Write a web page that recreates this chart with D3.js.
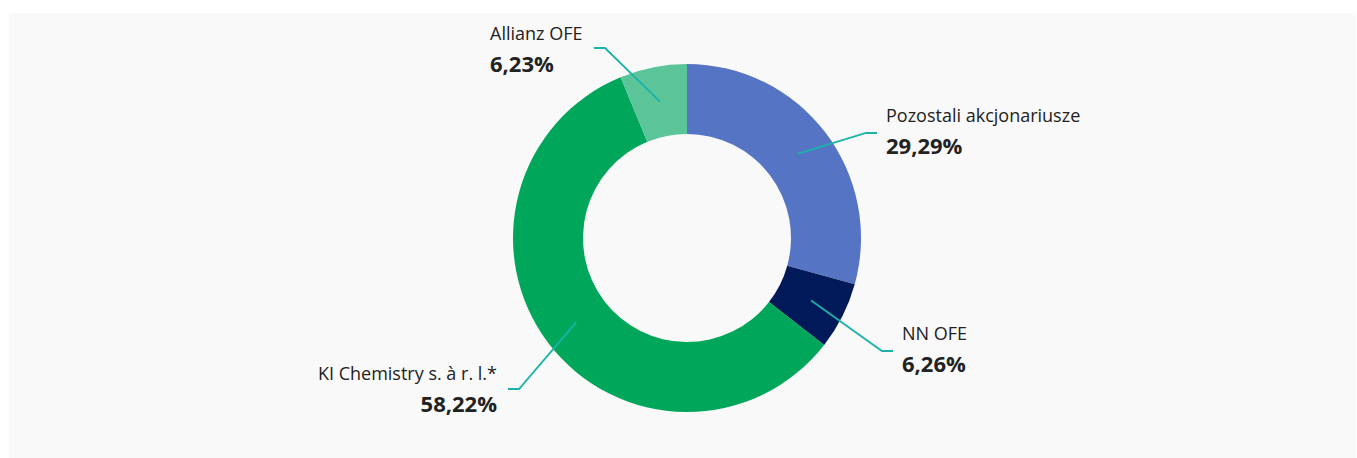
<!DOCTYPE html>
<html lang="pl">
<head>
<meta charset="UTF-8">
<title>Struktura akcjonariatu</title>
<script src="https://cdn.jsdelivr.net/npm/d3@7.8.5/dist/d3.min.js"></script>
<style>
  html, body { margin: 0; padding: 0; background: #fff; }
  svg { display: block; font-family: "Open Sans", sans-serif; }
</style>
</head>
<body>
<svg id="chart" width="1357" height="458"></svg>
<script>
// data (clockwise from 12 o'clock)
const names = ["Pozostali akcjonariusze", "NN OFE", "KI Chemistry s. à r. l.*", "Allianz OFE"];
const shares = [29.29, 6.26, 58.22, 6.23];
const colors = ["#5574c4", "#001a59", "#00a659", "#5cc499"];

// label anchor (end of the leader elbow) and text side, per slice
const labelPos = [
  { x: 866, y: 133, tail: 11, anchor: "start", tx: 886, ty: 122 },
  { x: 882, y: 351, tail: 11, anchor: "start", tx: 902, ty: 340 },
  { x: 519, y: 389, tail: -11, anchor: "end", tx: 497, ty: 380 },
  { x: 605, y: 48, tail: -11, anchor: "start", tx: 490, ty: 40 }
];

const W = 1357, H = 458;
const cx = 687, cy = 238, rOuter = 174, rInner = 104;

const svg = d3.select("#chart");

svg.append("rect")
  .attr("x", 9).attr("y", 13)
  .attr("width", W - 10).attr("height", H - 13)
  .attr("fill", "#f9f9f9");

const data = names.map((n, i) => ({ name: n, value: shares[i], color: colors[i], pos: labelPos[i] }));

const pie = d3.pie().value(d => d.value).sort(null);
const arc = d3.arc().innerRadius(rInner).outerRadius(rOuter);
const arcs = pie(data);

const g = svg.append("g").attr("transform", `translate(${cx},${cy})`);

g.selectAll("path.slice")
  .data(arcs)
  .enter().append("path")
  .attr("class", "slice")
  .attr("d", arc)
  .attr("fill", d => d.data.color);

// leader lines + labels
const fmt = v => d3.format(".2f")(v).replace(".", ",") + "%";

arcs.forEach(a => {
  const c = arc.centroid(a);
  const p = a.data.pos;
  const pts = [
    [cx + c[0], cy + c[1]],
    [p.x, p.y],
    [p.x + p.tail, p.y]
  ];
  svg.append("path")
    .attr("d", d3.line()(pts))
    .attr("fill", "none")
    .attr("stroke", "#1ab2aa")
    .attr("stroke-width", 1.8);

  const t = svg.append("text")
    .attr("x", p.tx).attr("y", p.ty)
    .attr("text-anchor", p.anchor)
    .attr("fill", "#222");
  t.append("tspan")
    .attr("x", p.tx)
    .attr("font-size", 18)
    .text(a.data.name);
  t.append("tspan")
    .attr("x", p.tx)
    .attr("dy", 32)
    .attr("font-size", 22)
    .attr("font-weight", "bold")
    .text(fmt(a.data.value));
});
</script>
</body>
</html>
